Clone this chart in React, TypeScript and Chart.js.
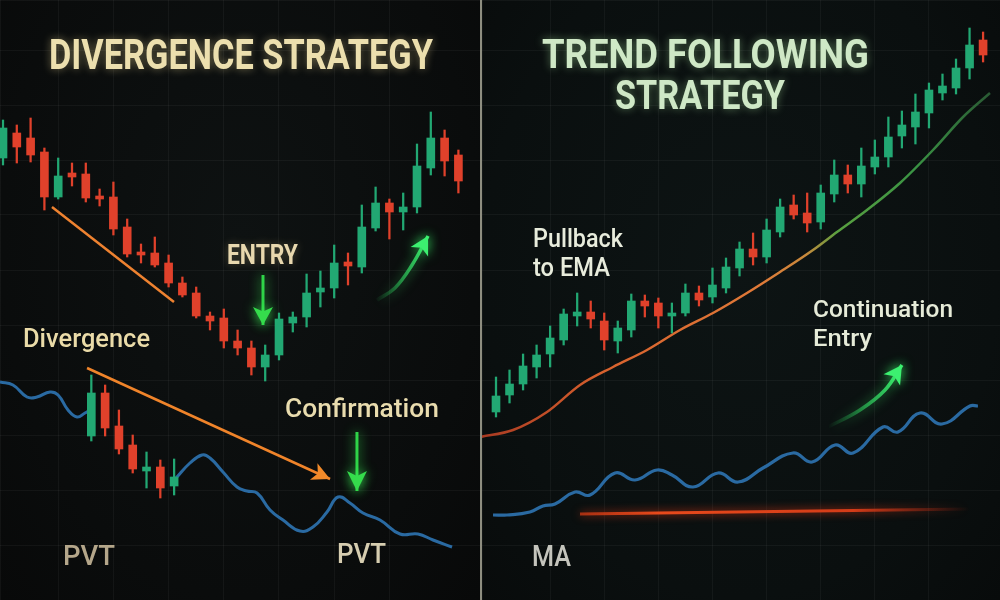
import React, { useEffect, useRef } from "react";
import { Chart, registerables } from "chart.js";
Chart.register(...registerables);

// ---------- LEFT PANEL: Divergence strategy ----------
const divOpen = [88.4, 93.4, 92.4, 89.6, 80.6, 85.4, 85.2, 80.8, 80.6, 74.6, 69.6, 69.4, 67.4, 63.4, 61.4, 56.8, 56.4, 51.8, 50.4, 46.6, 49, 55.4, 56.6, 61.6, 62.4, 67.6, 66.6, 74.4, 79.4, 77.6, 78.6, 86.4, 92.4, 89];
const divHigh = [96, 95, 96.4, 90.4, 88.4, 87.4, 87.4, 82.2, 83.6, 76.2, 71.2, 72.6, 69, 64.6, 62.6, 57.6, 58.2, 54, 51.8, 51, 57.4, 57.6, 65.2, 65.8, 71, 69.4, 79, 82.6, 80.2, 81.4, 91.2, 97.6, 94, 90];
const divLow = [87, 87.4, 87.6, 78, 80.2, 82.8, 79.6, 78.8, 73, 68.6, 67.4, 66.6, 62.6, 60.6, 56.4, 54, 50.4, 49, 45, 43.8, 48, 53.6, 54.6, 58.6, 60.4, 63, 65.4, 73.8, 72.2, 74, 77.4, 85, 84.8, 81.4];
const divClose = [94.4, 90.6, 89, 80.6, 84.8, 84.6, 80.4, 80.2, 74.2, 69.2, 69, 67, 63.4, 61, 56.8, 55.8, 51.8, 50.4, 46.6, 49, 56.2, 56.6, 61.4, 62.4, 67.4, 66.8, 74.6, 79.4, 77.6, 78.6, 86.8, 92.4, 87.8, 83.8];

const lowX = [6.4, 7.4, 8.4, 9.4, 10.4, 11.4, 12.4];
const lowOpen = [32.8, 41.4, 34.8, 31, 25.8, 26.6, 22.8];
const lowHigh = [45, 43, 38, 33, 29.6, 28, 28.2];
const lowLow = [31.8, 32.8, 29.2, 25.4, 22.4, 20.4, 21];
const lowClose = [41.4, 34.4, 30.2, 26.2, 26.6, 22.4, 24.6];

const pvtX = [-0.22, 0.72, 1.74, 2.46, 3.41, 3.99, 4.71, 5.36, 5.94, 6.3, 6.5, 12.54, 13.55, 14.42, 15, 15.94, 16.96, 17.68, 18.41, 19.35, 20.29, 21.52, 22.46, 23.48, 24.28, 25.14, 26.09, 27.32, 28.77, 30.07, 31.16, 32.54];
const pvtY = [43.6, 43, 40.6, 40.6, 41.6, 41, 38, 36.6, 37.4, 38, null, 24.4, 27.4, 29, 28.4, 25.6, 22.6, 21.8, 21.4, 18, 16, 13.8, 14.6, 17.6, 20.6, 19.4, 17.4, 16, 13.2, 13.2, 12, 10.6];

const priceDivX = [3.55, 12.39];
const priceDivY = [78.6, 59.6];
const pvtDivX = [6.09, 23.7];
const pvtDivY = [46.4, 24.2];
const entryArrowX = [18.84, 18.84];
const entryArrowY = [65, 55];
const confArrowX = [25.65, 25.65];
const confArrowY = [33.6, 21.8];
const riseArrowX = [27.1, 28.4, 29.64, 30.8];
const riseArrowY = [60, 62.4, 67, 72.8];

// ---------- RIGHT PANEL: Trend following ----------
const trendOpen = [37.6, 41, 43.2, 46.6, 49.2, 52, 56.8, 57.6, 55.8, 51.8, 54, 59.8, 59.4, 56.8, 57.4, 61.4, 60.6, 62.4, 66.4, 70.2, 68.6, 73.6, 79, 77.4, 75.6, 81.2, 85, 83.2, 86.6, 88.6, 92.8, 94.6, 97.4, 101.4, 102.4, 106.4, 112];
const trendHigh = [44.6, 46, 49.2, 51, 54.8, 58.2, 61.4, 59.8, 57.4, 55.8, 61.2, 61, 60.4, 59.4, 63.2, 62.8, 66.4, 68.4, 71.6, 73.4, 76.2, 80.2, 81, 81.4, 83, 88, 87, 90.4, 92, 96.6, 97.8, 101.2, 103.4, 105.2, 108.2, 114.4, 113.6];
const trendLow = [36.6, 39.4, 42, 44.4, 46.6, 51, 54.8, 54.4, 50, 49.4, 52.6, 56.6, 54.4, 53.4, 56.8, 58.8, 59.4, 61.4, 64.8, 67, 67.4, 72.6, 76.2, 73.6, 74.2, 79.6, 81.4, 80.6, 85.2, 86.6, 90.4, 91.2, 94.4, 100, 101.2, 104.2, 107.6];
const trendClose = [40.8, 43.2, 46.8, 49, 52.4, 57.2, 57.6, 56.2, 52, 54.4, 59.8, 58.8, 56.8, 57.4, 61.4, 60, 63, 66.6, 70.2, 68.6, 74, 78.6, 77, 75.4, 81.4, 85, 83.2, 86.8, 88.6, 92.6, 95, 97.6, 102, 102.8, 106.4, 111, 109];

const emaX = [-1.18, 1.26, 3.77, 6.21, 8.65, 11.16, 13.6, 16.04, 18.55, 20.99, 23.43, 25.2, 27.42, 29.86, 32.3, 34.52, 36.51];
const emaY = [32.6, 34, 37.6, 43, 46.6, 50, 54, 57.4, 61.4, 65.6, 70, 73.6, 78, 83.4, 90, 96.6, 101.4];
const maX = [-0.22, 0.81, 2.51, 3.47, 4.36, 5.84, 6.95, 8.8, 10.27, 11.9, 13.01, 14.56, 16.41, 17.89, 19.73, 21.95, 23.36, 25.06, 26.39, 28.6, 29.71, 31.34, 32.96, 35.03, 35.62];
const maY = [17, 17, 17.6, 18.8, 19.2, 21.6, 21, 25.4, 24, 26, 25, 22.6, 25.4, 23.6, 26.4, 29.4, 27.6, 31, 29.4, 34.6, 33.6, 37.4, 35.2, 38.8, 38.8];
const signalX = [6.21, 35.03];
const signalY = [17.2, 18.2];
const contArrowX = [24.54, 26.9, 28.75, 30.0];
const contArrowY = [34.6, 38, 42, 47];

const GREEN = "#22a873";
const RED = "#e0412b";

const pts = (xs: number[], ys: (number | null)[]) => xs.map((x, i) => ({ x, y: ys[i] }));

function candles(xs: number[], o: number[], h: number[], l: number[], c: number[], bodyW: number) {
  const cols = o.map((v, i) => (c[i] >= v ? GREEN : RED));
  return [
    { type: "bar", data: xs.map((x, i) => ({ x, y: [o[i], c[i]] })), backgroundColor: cols, barThickness: bodyW, grouped: false, order: 0, borderWidth: 0 },
    { type: "bar", data: xs.map((x, i) => ({ x, y: [l[i], h[i]] })), backgroundColor: cols, barThickness: 1.6, grouped: false, order: 0, borderWidth: 0 },
  ];
}

function line(xs: number[], ys: (number | null)[], color: any, width: number, extra: any = {}) {
  return {
    type: "line",
    data: pts(xs, ys),
    borderColor: color,
    borderWidth: width,
    pointRadius: 0,
    fill: false,
    spanGaps: false,
    cubicInterpolationMode: "monotone",
    order: 1,
    ...extra,
  };
}

const fxPlugin = {
  id: "fx",
  beforeDatasetDraw(chart: any, args: any) {
    const ds = chart.data.datasets[args.index];
    const ctx = chart.ctx;
    ctx.save();
    if (ds.glowColor) {
      ctx.shadowColor = ds.glowColor;
      ctx.shadowBlur = ds.glowBlur || 10;
    }
  },
  afterDatasetDraw(chart: any, args: any) {
    const ds = chart.data.datasets[args.index];
    const ctx = chart.ctx;
    if (ds.arrowHead) {
      const els = args.meta.data;
      const p1 = els[els.length - 1];
      const p0 = els[els.length - 2];
      const ang = Math.atan2(p1.y - p0.y, p1.x - p0.x);
      const L = ds.arrowHead.len;
      const W = ds.arrowHead.half;
      ctx.beginPath();
      ctx.moveTo(p1.x, p1.y);
      ctx.lineTo(p1.x - L * Math.cos(ang) + W * Math.sin(ang), p1.y - L * Math.sin(ang) - W * Math.cos(ang));
      ctx.lineTo(p1.x - L * Math.cos(ang) * 0.75, p1.y - L * Math.sin(ang) * 0.75);
      ctx.lineTo(p1.x - L * Math.cos(ang) - W * Math.sin(ang), p1.y - L * Math.sin(ang) + W * Math.cos(ang));
      ctx.closePath();
      ctx.fillStyle = ds.arrowHead.color;
      ctx.fill();
    }
    ctx.restore();
  },
};

type Label = { text: string; x: number; y: number; w: number; size: number; weight: string; color: string; glow?: string };

const textPlugin = {
  id: "texts",
  afterDraw(chart: any) {
    const labels: Label[] = chart.options.plugins.texts?.labels || [];
    const ctx = chart.ctx;
    labels.forEach((t) => {
      ctx.save();
      ctx.font = `${t.weight} ${t.size}px Roboto, "DejaVu Sans", sans-serif`;
      const m = ctx.measureText(t.text).width;
      ctx.translate(t.x, t.y);
      ctx.scale(t.w / m, 1);
      ctx.textBaseline = "alphabetic";
      ctx.textAlign = "left";
      if (t.glow) {
        ctx.shadowColor = t.glow;
        ctx.shadowBlur = 8;
      }
      ctx.fillStyle = t.color;
      ctx.fillText(t.text, 0, 0);
      ctx.restore();
    });
  },
};

const leftLabels: Label[] = [
  { text: "DIVERGENCE STRATEGY", x: 49, y: 69, w: 384, size: 42, weight: "bold", color: "#ecdfae", glow: "rgba(240,220,150,0.45)" },
  { text: "ENTRY", x: 227, y: 264, w: 71, size: 28, weight: "bold", color: "#e8d8ae", glow: "rgba(240,220,150,0.3)" },
  { text: "Divergence", x: 23, y: 347, w: 127, size: 26, weight: "500", color: "#eadba8" },
  { text: "Confirmation", x: 285, y: 417, w: 154, size: 26, weight: "500", color: "#e9dcae" },
  { text: "PVT", x: 63, y: 565, w: 52, size: 28, weight: "500", color: "#b4a68a" },
  { text: "PVT", x: 337, y: 563, w: 49, size: 28, weight: "500", color: "#d6cdb0" },
];

const rightLabels: Label[] = [
  { text: "TREND FOLLOWING", x: 60, y: 68, w: 327, size: 41, weight: "bold", color: "#cfe8c6", glow: "rgba(170,230,160,0.45)" },
  { text: "STRATEGY", x: 133, y: 109, w: 170, size: 41, weight: "bold", color: "#cfe8c6", glow: "rgba(170,230,160,0.45)" },
  { text: "Pullback", x: 51, y: 247, w: 90, size: 26, weight: "500", color: "#e8ecdc" },
  { text: "to EMA", x: 51, y: 276, w: 77, size: 26, weight: "500", color: "#e8ecdc" },
  { text: "Continuation", x: 331, y: 317, w: 140, size: 24, weight: "500", color: "#e6ebd8" },
  { text: "Entry", x: 331, y: 346, w: 59, size: 24, weight: "500", color: "#e6ebd8" },
  { text: "MA", x: 50, y: 566, w: 39, size: 29, weight: "500", color: "#c4c4bc" },
];

function scales(xmin: number, xmax: number) {
  const grid = { color: "rgba(255,255,255,0.045)", drawTicks: false, offset: false, lineWidth: 1 };
  return {
    x: { type: "linear", min: xmin, max: xmax, offset: false, grid, border: { display: false }, ticks: { display: false, stepSize: 4 } },
    y: { type: "linear", min: 0, max: 120, grid, border: { display: false }, ticks: { display: false, stepSize: 11 } },
  };
}

function gradientX(chart: any, xs: number[], stops: [number, string][], fallback: string) {
  const area = chart.chartArea;
  const sx = chart.scales?.x;
  if (!area || !sx) return fallback;
  const g = chart.ctx.createLinearGradient(sx.getPixelForValue(xs[0]), 0, sx.getPixelForValue(xs[xs.length - 1]), 0);
  stops.forEach(([o, c]) => g.addColorStop(o, c));
  return g;
}

function baseOptions(xmin: number, xmax: number, labels: Label[]) {
  return {
    responsive: false,
    animation: false,
    layout: { padding: 0 },
    scales: scales(xmin, xmax),
    plugins: { legend: { display: false }, tooltip: { enabled: false }, texts: { labels } },
  };
}

const smooth = { cubicInterpolationMode: "default", tension: 0.45 };

function LeftPanel() {
  const ref = useRef<HTMLCanvasElement>(null);
  useEffect(() => {
    const datasets: any[] = [
      ...candles(divOpen.map((_, i) => i), divOpen, divHigh, divLow, divClose, 8),
      ...candles(lowX, lowOpen, lowHigh, lowLow, lowClose, 8),
      line(pvtX, pvtY, "#2a6aa2", 3, smooth),
      line(priceDivX, priceDivY, "#ee8230", 2.5, { order: -1 }),
      line(pvtDivX, pvtDivY, "#f0842a", 2.5, { order: -1, arrowHead: { len: 18, half: 9, color: "#f28a2a" } }),
      line(entryArrowX, entryArrowY, "#2fd448", 3, { order: -1, glowColor: "rgba(60,255,90,0.8)", glowBlur: 12, arrowHead: { len: 18, half: 10, color: "#35dc4c" } }),
      line(confArrowX, confArrowY, "#2fd448", 3, { order: -1, glowColor: "rgba(60,255,90,0.8)", glowBlur: 12, arrowHead: { len: 20, half: 10, color: "#35dc4c" } }),
      line(riseArrowX, riseArrowY, (c: any) => gradientX(c.chart, riseArrowX, [[0, "rgba(40,200,90,0.05)"], [0.5, "rgba(50,220,100,0.6)"], [1, "#3cf070"]], "#3cf070"), 3.5, {
        order: -1, tension: 0.4, cubicInterpolationMode: "default", glowColor: "rgba(60,255,110,0.7)", glowBlur: 12, arrowHead: { len: 18, half: 10, color: "#3cf070" },
      }),
    ];
    const chart = new Chart(ref.current!, {
      type: "bar",
      data: { datasets },
      options: baseOptions(-3 / 13.8, 477 / 13.8, leftLabels) as any,
      plugins: [fxPlugin, textPlugin],
    } as any);
    return () => chart.destroy();
  }, []);
  return <canvas ref={ref} width={480} height={600} style={{ position: "absolute", left: 0, top: 0, background: "radial-gradient(ellipse at 50% 40%, #0e1212 0%, #0a0c0c 70%, #080909 100%)" }} />;
}

function RightPanel() {
  const ref = useRef<HTMLCanvasElement>(null);
  useEffect(() => {
    const datasets: any[] = [
      ...candles(trendOpen.map((_, i) => i), trendOpen, trendHigh, trendLow, trendClose, 8),
      line(emaX, emaY, (c: any) => gradientX(c.chart, emaX, [[0, "#a83a22"], [0.25, "#d8622e"], [0.55, "#e07a38"], [0.64, "#c88a3c"], [0.7, "#5aa040"], [0.85, "#3a9444"], [1, "#2a5a34"]], "#e07030"), 2.5),
      line(maX, maY, "#2a6aa2", 3.2, smooth),
      line(signalX, signalY, (c: any) => gradientX(c.chart, signalX, [[0, "rgba(220,60,20,0.7)"], [0.2, "#e84a1c"], [0.7, "#d43c18"], [1, "rgba(180,40,20,0)"]], "#e04a1c"), 3, { glowColor: "rgba(255,60,20,0.8)", glowBlur: 8, cubicInterpolationMode: "default" }),
      line(contArrowX, contArrowY, (c: any) => gradientX(c.chart, contArrowX, [[0, "rgba(40,200,90,0.0)"], [0.5, "rgba(50,220,100,0.6)"], [1, "#3cf070"]], "#3cf070"), 3.5, {
        order: -1, tension: 0.4, cubicInterpolationMode: "default", glowColor: "rgba(60,255,110,0.7)", glowBlur: 12, arrowHead: { len: 18, half: 10, color: "#3cf070" },
      }),
    ];
    const chart = new Chart(ref.current!, {
      type: "bar",
      data: { datasets },
      options: baseOptions(-14 / 13.53, 504 / 13.53, rightLabels) as any,
      plugins: [fxPlugin, textPlugin],
    } as any);
    return () => chart.destroy();
  }, []);
  return <canvas ref={ref} width={518} height={600} style={{ position: "absolute", left: 482, top: 0, background: "radial-gradient(ellipse at 50% 45%, #0d1414 0%, #0a0f0f 70%, #080b0b 100%)" }} />;
}

export default function App() {
  return (
    <div style={{ position: "fixed", left: 0, top: 0, width: 1000, height: 600, background: "#0a0c0c", overflow: "hidden" }}>
      <LeftPanel />
      <div style={{ position: "absolute", left: 480, top: 0, width: 2, height: 600, background: "#8e8e80" }} />
      <RightPanel />
    </div>
  );
}
